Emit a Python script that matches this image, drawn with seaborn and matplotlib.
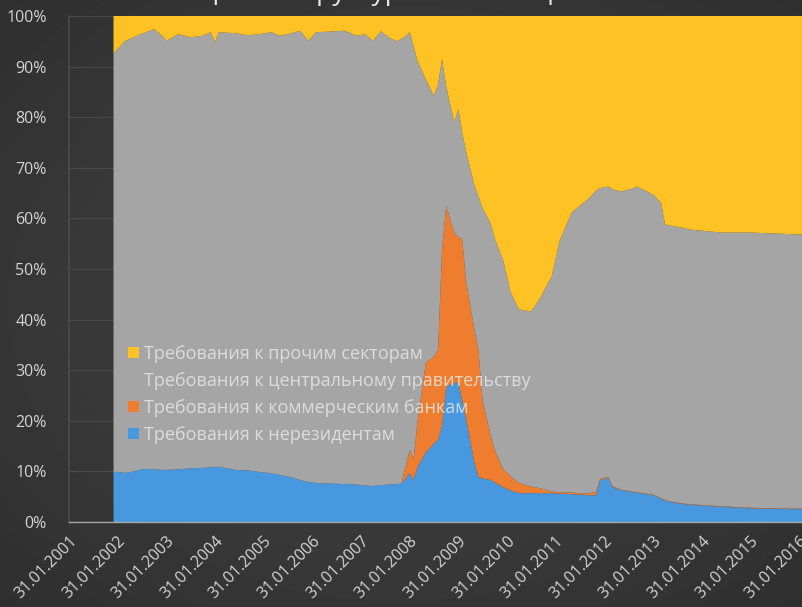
import numpy as np
import pandas as pd
import matplotlib
matplotlib.use("Agg")
import matplotlib.pyplot as plt
from matplotlib.patches import Patch
import seaborn as sns

# ---------------- data (shares, % of total assets) ----------------
months = ["2001-12", "2002-01", "2002-03", "2002-05", "2002-07", "2002-08", "2002-10", "2002-12",
          "2003-01", "2003-04", "2003-07", "2003-10", "2003-12", "2004-01", "2004-02", "2004-06",
          "2004-09", "2004-12", "2005-03", "2005-05", "2005-08", "2005-10", "2005-12", "2006-02",
          "2006-05", "2006-09", "2006-12", "2007-02", "2007-04", "2007-06", "2007-08", "2007-10",
          "2007-11", "2007-12", "2008-01", "2008-02", "2008-03", "2008-05", "2008-07", "2008-08",
          "2008-09", "2008-10", "2008-12", "2009-01", "2009-02", "2009-03", "2009-05", "2009-06",
          "2009-07", "2009-09", "2009-10", "2009-12", "2010-02", "2010-04", "2010-07", "2010-09",
          "2010-12", "2011-02", "2011-05", "2011-09", "2011-11", "2011-12", "2012-02", "2012-03",
          "2012-05", "2012-08", "2012-09", "2013-01", "2013-03", "2013-04", "2013-05", "2013-08",
          "2013-10", "2014-06", "2015-01", "2016-02"]

# cumulative level: nonresidents (blue)
nonres = [9.9, 9.9, 9.7, 10.0, 10.4, 10.5, 10.4, 10.3,
          10.3, 10.4, 10.6, 10.7, 10.8, 10.9, 10.9, 10.3,
          10.2, 9.9, 9.6, 9.3, 8.8, 8.3, 7.9, 7.7,
          7.6, 7.5, 7.4, 7.2, 7.1, 7.3, 7.4, 7.5,
          7.6, 8.5, 9.7, 8.3, 10.9, 13.7, 15.5, 16.2,
          19.0, 26.7, 27.5, 27.5, 24.0, 20.2, 11.7, 8.9,
          8.6, 8.3, 7.8, 6.9, 6.2, 5.7, 5.7, 5.7,
          5.7, 5.6, 5.5, 5.3, 5.3, 8.3, 8.7, 6.9,
          6.3, 5.9, 5.8, 5.3, 4.6, 4.3, 4.0, 3.6,
          3.4, 3.0, 2.7, 2.5]
# cumulative: nonresidents + commercial banks (orange top)
banks_cum = [9.9, 9.9, 9.7, 10.0, 10.4, 10.5, 10.4, 10.3,
             10.3, 10.4, 10.6, 10.7, 10.8, 10.9, 10.9, 10.3,
             10.2, 9.9, 9.6, 9.3, 8.8, 8.3, 7.9, 7.7,
             7.6, 7.5, 7.4, 7.2, 7.1, 7.3, 7.4, 7.5,
             7.6, 10.9, 14.2, 12.5, 20.0, 31.5, 32.7, 34.0,
             53.8, 62.4, 57.0, 56.4, 55.8, 47.3, 38.0, 34.0,
             24.0, 17.0, 14.2, 10.5, 9.0, 7.7, 7.0, 6.7,
             6.0, 5.9, 5.8, 5.6, 6.0, 8.6, 8.9, 7.1,
             6.4, 6.0, 5.9, 5.4, 4.7, 4.4, 4.1, 3.7,
             3.5, 3.1, 2.8, 2.6]
# cumulative: ... + central government (gray top)
gov_cum = [92.5, 93.5, 95.1, 95.8, 96.5, 96.8, 97.4, 96.1,
           95.1, 96.4, 95.8, 96.1, 96.8, 94.8, 96.8, 96.6,
           96.2, 96.4, 96.8, 96.1, 96.6, 97.1, 95.1, 96.8,
           96.9, 97.1, 96.1, 96.4, 95.1, 97.0, 95.7, 95.0,
           95.5, 96.0, 96.8, 94.0, 91.0, 87.5, 84.2, 86.5,
           91.5, 86.0, 79.0, 81.6, 77.0, 73.0, 66.5, 64.4,
           62.0, 59.0, 56.0, 51.9, 45.3, 42.0, 41.6, 44.0,
           48.5, 55.5, 61.2, 63.8, 65.5, 66.0, 66.3, 65.8,
           65.3, 65.9, 66.3, 64.7, 63.1, 58.8, 58.6, 58.2,
           57.8, 57.2, 57.2, 56.8]

series_names = ["Требования к нерезидентам",
                "Требования к коммерческим банкам",
                "Требования к центральному правительству",
                "Требования к прочим секторам"]
series_colors = ["#4898E0", "#EE7D30", "#A5A5A5", "#FFC225"]

year_ticks = list(range(2001, 2017))
tick_labels = [f"31.01.{y}" for y in year_ticks]
y_ticks = list(range(0, 101, 10))
title_text = "ЦБ РФ: структура активов ЦБ РФ"

# ---------------- derived shares ----------------
dates = pd.to_datetime(months) + pd.offsets.MonthEnd(0)
nonres_a = np.array(nonres)
banks_a = np.array(banks_cum) - nonres_a
gov_a = np.array(gov_cum) - np.array(banks_cum)
other_a = 100.0 - np.array(gov_cum)
df = pd.DataFrame({"date": dates, series_names[0]: nonres_a, series_names[1]: banks_a,
                   series_names[2]: gov_a, series_names[3]: other_a})

# ---------------- style ----------------
sns.set_theme(style="dark")
plt.rcParams["font.family"] = ["Open Sans", "DejaVu Sans"]

fig = plt.figure(figsize=(8.03, 6.07), dpi=100)

# dark gradient background
bg = fig.add_axes([0, 0, 1, 1], zorder=-10)
yy, xx = np.mgrid[0:1:200j, 0:1:200j]
r = np.sqrt((xx - 0.5) ** 2 + (yy - 0.5) ** 2)
bg.imshow(0.27 - 0.12 * r, cmap="gray", vmin=0, vmax=1, aspect="auto", extent=[0, 1, 0, 1])
bg.set_axis_off()

ax = fig.add_axes([69 / 803, 85 / 607, 734 / 803, 506 / 607])
ax.set_facecolor("none")

ax.stackplot(df["date"], [df[n] for n in series_names], colors=series_colors,
             linewidth=0.4, edgecolor="none", zorder=3)

ax.set_ylim(0, 100)
ax.set_xlim(pd.Timestamp("2001-01-31"), pd.Timestamp("2016-02-29"))
ax.set_yticks(y_ticks)
ax.set_yticklabels([f"{v}%" for v in y_ticks])
ax.set_xticks([pd.Timestamp(f"{y}-01-31") for y in year_ticks])
ax.set_xticklabels(tick_labels, rotation=45, ha="right", rotation_mode="anchor")

ax.grid(axis="y", color="#4a4a4a", linewidth=0.8, zorder=0)
ax.grid(axis="x", visible=False)
for s in ["top", "right"]:
    ax.spines[s].set_visible(False)
ax.spines["left"].set_color("#4a4a4a")
ax.spines["bottom"].set_color("#a8a8a8")
ax.spines["bottom"].set_linewidth(1.0)
ax.spines["bottom"].set_zorder(5)

ax.tick_params(axis="y", colors="#d4d4d4", labelsize=11.5, length=0, pad=16)
ax.tick_params(axis="x", colors="#d4d4d4", labelsize=11.5, length=6, direction="inout",
               width=1, pad=5)
for t in ax.get_xticklines():
    t.set_color("#b8c8dc")

ax.set_xlabel("")
ax.set_ylabel("")

# legend (top-down order: other, gov, banks, nonres)
order = [3, 2, 1, 0]
handles = [Patch(facecolor=series_colors[i], edgecolor="none") for i in order]
leg = ax.legend(handles, [series_names[i] for i in order], loc="upper left",
                bbox_to_anchor=(0.08, 0.35), frameon=False, fontsize=13,
                handlelength=0.6, handleheight=0.6, handletextpad=0.3,
                labelspacing=0.5, borderpad=0, borderaxespad=0)
for t in leg.get_texts():
    t.set_color("#e6e6e6")
    t.set_alpha(0.85)
leg.set_zorder(6)

fig.text(0.505, 1 - 0.5 / 607, title_text, ha="center", va="baseline",
         fontsize=19, color="#e8e8e8")

fig.savefig("out.png", dpi=100)
